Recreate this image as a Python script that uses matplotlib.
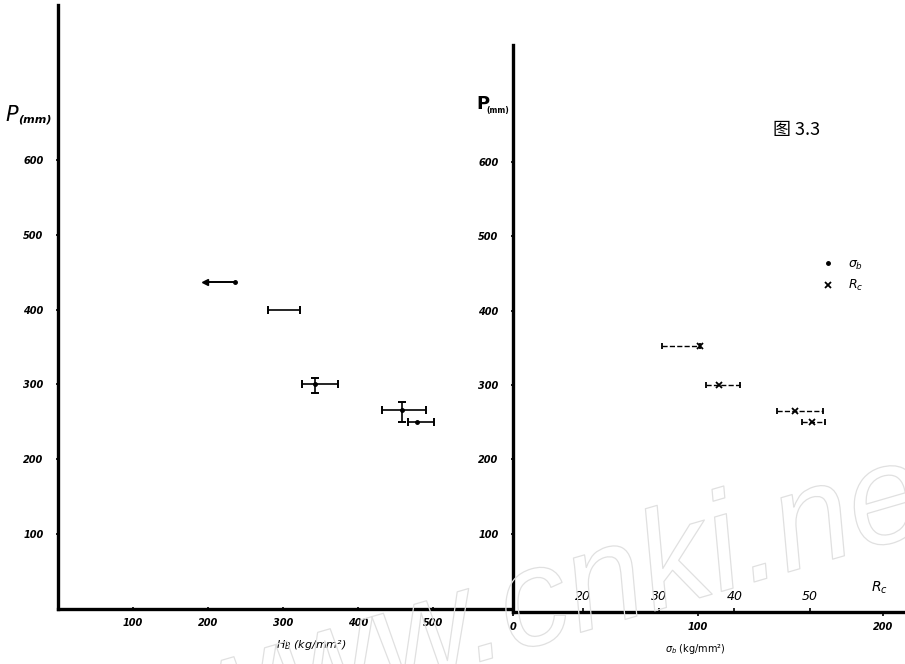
import numpy as np
import matplotlib.pyplot as plt
import matplotlib.patheffects as pe

plt.rcParams['font.family'] = ['DejaVu Sans', 'Noto Sans CJK SC']

# left panel: P vs H_B
p_left = [437, 400, 301, 265, 250]
h_lo = [196, 280, 325, 432, 467]
h_hi = [236, 323, 373, 491, 501]
h_mid = [236, 301, 343, 459, 479]
has_dot = [True, False, True, True, True]
p_err_lo = [0, 0, 288, 250, 0]
p_err_hi = [0, 0, 309, 276, 0]

# right panel: P vs Rc (sigma_b bars)
p_right = [353, 300, 265, 251]
rc_val = [35.4, 38.0, 48.0, 50.3]
rc_lo = [30.5, 36.3, 45.6, 49.0]
rc_hi = [35.4, 40.7, 51.7, 52.0]

y_ticks = [100, 200, 300, 400, 500, 600]
hb_ticks = [100, 200, 300, 400, 500]
rc_ticks = [20, 30, 40, 50]
sb_ticks = [0, 100, 200]

W, H = 905, 664
fig = plt.figure(figsize=(W / 100, H / 100), dpi=100)
tick_font = dict(fontsize=7, fontweight='bold', fontstyle='italic')

def style(ax):
    for s in ['top', 'right']:
        ax.spines[s].set_visible(False)
    for s in ['left', 'bottom']:
        ax.spines[s].set_linewidth(2.4)
    ax.set_facecolor('none')

# watermark (drawn first, behind everything)
wm = fig.text(193 / W, 1 - 745 / H, 'www.cnki.net', fontsize=100, color='none',
              family='Liberation Sans', fontstyle='italic', rotation=16.2,
              rotation_mode='anchor', ha='left', va='baseline', zorder=0)
wm.set_path_effects([pe.withStroke(linewidth=0.9, foreground='#e0e0e0')])

# ---- left axes
ax1 = fig.add_axes([58 / W, (H - 609) / H, (510 - 58) / W, (609 - 5) / H])
style(ax1)
ax1.set_xlim(0, 603)
ax1.set_ylim(-1, 808)
ax1.set_yticks(y_ticks)
ax1.set_yticklabels([str(v) for v in y_ticks], **tick_font)
ax1.set_xticks(hb_ticks)
ax1.set_xticklabels([str(v) for v in hb_ticks], **tick_font)
ax1.tick_params(axis='y', length=3, width=1.2, pad=9, direction='inout')
ax1.tick_params(axis='x', length=3, width=1.2, pad=5, direction='inout')

h_lo_a = np.array(h_lo); h_hi_a = np.array(h_hi); h_mid_a = np.array(h_mid)
pl = np.array(p_left)
# first bar: arrow to the left, no caps
ax1.errorbar(h_mid_a[:1], pl[:1], xerr=[h_mid_a[:1] - h_lo_a[:1], h_hi_a[:1] - h_mid_a[:1]],
             fmt='none', color='black', lw=1.4)
ax1.plot(h_lo[0], p_left[0], marker='<', color='black', ms=5)
ax1.errorbar(h_mid_a[1:], pl[1:], xerr=[h_mid_a[1:] - h_lo_a[1:], h_hi_a[1:] - h_mid_a[1:]],
             fmt='none', color='black', lw=1.2, capsize=3, capthick=1.4)
d = np.array(has_dot)
ax1.plot(h_mid_a[d], pl[d], '.', color='black', ms=5)
pe_lo = np.array(p_err_lo); pe_hi = np.array(p_err_hi)
m = pe_hi > 0
ax1.errorbar(h_mid_a[m], pl[m], yerr=[pl[m] - pe_lo[m], pe_hi[m] - pl[m]],
             fmt='none', color='black', lw=1.2, capsize=3, capthick=1.4)
ax1.set_xlabel('$H_B$ (kg/mm²)', fontsize=8, fontstyle='italic')
ax1.xaxis.set_label_coords(0.56, -0.048)

# ---- right axes
ax2 = fig.add_axes([513 / W, (H - 612) / H, (905 - 513) / W, (612 - 45) / H])
style(ax2)
ax2.set_xlim(10.75, 62.55)
ax2.set_ylim(-5, 757)
ax2.set_yticks(y_ticks)
ax2.set_yticklabels([str(v) for v in y_ticks], **tick_font)
ax2.tick_params(axis='y', length=3, width=1.2, pad=9, direction='inout')
ax2.set_xticks(rc_ticks)
ax2.set_xticklabels([str(v) for v in rc_ticks], fontsize=9, fontstyle='italic')
ax2.tick_params(axis='x', length=3, width=1.2, direction='in', pad=-16)

sec = ax2.secondary_xaxis('bottom', functions=(lambda r: (r - 10.75) * 4.09,
                                               lambda s: s / 4.09 + 10.75))
sec.set_xticks(sb_ticks)
sec.set_xticklabels([str(v) for v in sb_ticks], **tick_font)
sec.tick_params(length=3, width=1.2, pad=4)
sec.spines['bottom'].set_visible(False)
sec.set_xlabel(r'$\sigma_b$ (kg/mm²)', fontsize=7)
sec.xaxis.set_label_coords(0.464, -0.053, transform=ax2.transAxes)

rv = np.array(rc_val); rl = np.array(rc_lo); rh = np.array(rc_hi)
eb = ax2.errorbar(rv, p_right, xerr=[rv - rl, rh - rv], fmt='x', color='black',
                  ms=4, mew=1.3, lw=1.0, capsize=2.5, capthick=1.3)
eb[2][0].set_linestyle('--')
ax2.text(59.2, 22, '$R_c$', fontsize=10, fontstyle='italic', ha='center')

h_dot, = ax2.plot([], [], '.', color='black', ms=5)
h_x, = ax2.plot([], [], 'x', color='black', ms=4, mew=1.3)
ax2.legend([h_dot, h_x], [r'$\sigma_b$', '$R_c$'], loc='upper left',
           bbox_to_anchor=(0.755, 0.645), frameon=False, fontsize=9,
           handlelength=1.2, handletextpad=1.0, labelspacing=0.5)

# axis titles and figure number
fig.text(5 / W, 1 - 115 / H, '$P$', fontsize=15, fontstyle='italic',
         fontweight='bold', va='center')
fig.text(18 / W, 1 - 119 / H, '(mm)', fontsize=8, fontweight='bold',
         fontstyle='italic', va='center')
fig.text(476 / W, 1 - 104 / H, 'P', fontsize=13, fontweight='bold', va='center')
fig.text(486 / W, 1 - 111 / H, '(mm)', fontsize=5.5, fontweight='bold', va='center')
fig.text(773 / W, 1 - 130 / H, '图 3.3', fontsize=13,
         family=['Noto Sans CJK SC', 'DejaVu Sans'], va='center')

fig.savefig('out.png', dpi=100)
